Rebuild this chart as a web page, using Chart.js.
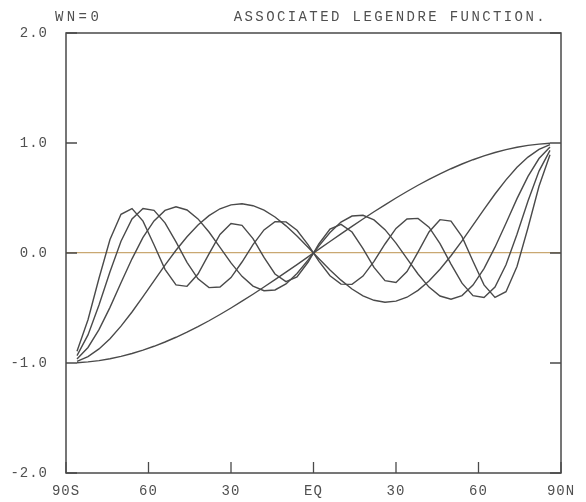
<!DOCTYPE html>
<html>
<head>
<meta charset="utf-8">
<title>Associated Legendre function, WN=0</title>
<script src="https://cdn.jsdelivr.net/npm/chart.js@4.4.1/dist/chart.umd.min.js"></script>
<style>
  html, body { margin: 0; padding: 0; background: #ffffff; }
  #wrap { width: 586px; height: 502px; }
</style>
</head>
<body>
<div id="wrap"><canvas id="legendreChart" width="586" height="502"></canvas></div>
<script>
// Legendre functions for zonal wavenumber 0, odd degrees n = 1..9,
// sampled on a 4-degree latitude grid (2 deg off the equator / poles).
const latitudes = [
    -86, -82, -78, -74, -70, -66, -62, -58, -54, -50, -46,
    -42, -38, -34, -30, -26, -22, -18, -14, -10, -6, -2,
    2, 6, 10, 14, 18, 22, 26, 30, 34, 38, 42,
    46, 50, 54, 58, 62, 66, 70, 74, 78, 82, 86
];

const p1 = [
    -0.998, -0.990, -0.978, -0.961, -0.940, -0.914, -0.883, -0.848, -0.809, -0.766, -0.719,
    -0.669, -0.616, -0.559, -0.500, -0.438, -0.375, -0.309, -0.242, -0.174, -0.105, -0.035,
    0.035, 0.105, 0.174, 0.242, 0.309, 0.375, 0.438, 0.500, 0.559, 0.616, 0.669,
    0.719, 0.766, 0.809, 0.848, 0.883, 0.914, 0.940, 0.961, 0.978, 0.990, 0.998
];
const p3 = [
    -0.985, -0.942, -0.872, -0.779, -0.665, -0.536, -0.396, -0.253, -0.110, 0.025, 0.148,
    0.255, 0.340, 0.402, 0.438, 0.447, 0.430, 0.390, 0.327, 0.247, 0.154, 0.052,
    -0.052, -0.154, -0.247, -0.327, -0.390, -0.430, -0.447, -0.438, -0.402, -0.340, -0.255,
    -0.148, -0.025, 0.110, 0.253, 0.396, 0.536, 0.665, 0.779, 0.872, 0.942, 0.985
];
const p5 = [
    -0.964, -0.859, -0.697, -0.494, -0.271, -0.053, 0.142, 0.292, 0.387, 0.420, 0.391,
    0.310, 0.191, 0.051, -0.090, -0.212, -0.301, -0.343, -0.336, -0.281, -0.186, -0.065,
    0.065, 0.186, 0.281, 0.336, 0.343, 0.301, 0.212, 0.090, -0.051, -0.191, -0.310,
    -0.391, -0.420, -0.387, -0.292, -0.142, 0.053, 0.271, 0.494, 0.697, 0.859, 0.964
];
const p7 = [
    -0.933, -0.745, -0.473, -0.170, 0.107, 0.309, 0.405, 0.388, 0.274, 0.101, -0.085,
    -0.235, -0.315, -0.309, -0.223, -0.082, 0.076, 0.210, 0.285, 0.283, 0.207, 0.076,
    -0.076, -0.207, -0.283, -0.285, -0.210, -0.076, 0.082, 0.223, 0.309, 0.315, 0.235,
    0.085, -0.101, -0.274, -0.388, -0.405, -0.309, -0.107, 0.170, 0.473, 0.745, 0.933
];
const p9 = [
    -0.893, -0.607, -0.230, 0.123, 0.352, 0.404, 0.290, 0.075, -0.148, -0.290, -0.303,
    -0.191, -0.008, 0.169, 0.268, 0.252, 0.131, -0.040, -0.191, -0.260, -0.218, -0.084,
    0.084, 0.218, 0.260, 0.191, 0.040, -0.131, -0.252, -0.268, -0.169, 0.008, 0.191,
    0.303, 0.290, 0.148, -0.075, -0.290, -0.404, -0.352, -0.123, 0.230, 0.607, 0.893
];

const latTicks = [-90, -60, -30, 0, 30, 60, 90];
const latTickLabels = ['90S', '60', '30', 'EQ', '30', '60', '90N'];
const valueTicks = [-2, -1, 0, 1, 2];

const seriesList = [p1, p3, p5, p7, p9];
const seriesNames = ['P1', 'P3', 'P5', 'P7', 'P9'];

const INK = '#4a4a4a';
const ZERO_LINE = '#c9a872';
const FONT = "'Liberation Mono', 'DejaVu Sans Mono', monospace";

// frame box + inward tick marks + the two header strings
const plotterFrame = {
    id: 'plotterFrame',
    beforeDraw(chart) {
        // plotter lettering is a bit wider than the mono font; tick labels inherit this
        chart.ctx.letterSpacing = '1px';
    },
    afterDatasetsDraw(chart) {
        const { ctx, chartArea: a, scales } = chart;
        const tick = 11;
        ctx.save();
        ctx.strokeStyle = INK;
        ctx.lineWidth = 1.5;
        ctx.strokeRect(a.left, a.top, a.right - a.left, a.bottom - a.top);

        ctx.lineWidth = 1.3;
        ctx.beginPath();
        valueTicks.forEach(function (v) {
            const y = scales.y.getPixelForValue(v);
            ctx.moveTo(a.left, y); ctx.lineTo(a.left + tick, y);
            ctx.moveTo(a.right, y); ctx.lineTo(a.right - tick, y);
        });
        latTicks.forEach(function (v) {
            const x = scales.x.getPixelForValue(v);
            ctx.moveTo(x, a.bottom); ctx.lineTo(x, a.bottom - tick);
        });
        ctx.stroke();

        ctx.fillStyle = '#505050';
        ctx.font = '14px ' + FONT;
        ctx.textBaseline = 'alphabetic';
        ctx.letterSpacing = '3.4px';
        ctx.textAlign = 'left';
        ctx.fillText('WN=0', a.left - 11, 21);
        ctx.letterSpacing = '2.4px';
        ctx.textAlign = 'right';
        ctx.fillText('ASSOCIATED LEGENDRE FUNCTION.', a.right - 14, 21);
        ctx.restore();
    }
};

new Chart(document.getElementById('legendreChart'), {
    type: 'line',
    data: {
        datasets: seriesList.map(function (values, i) {
            return {
                label: seriesNames[i],
                data: latitudes.map(function (lat, j) { return { x: lat, y: values[j] }; }),
                borderColor: INK,
                borderWidth: 1.4,
                pointRadius: 0,
                tension: 0,
                fill: false
            };
        })
    },
    options: {
        responsive: false,
        animation: false,
        layout: { padding: { top: 33, right: 25, left: 0, bottom: 0 } },
        plugins: {
            legend: { display: false },
            tooltip: { enabled: false }
        },
        scales: {
            x: {
                type: 'linear',
                min: -90,
                max: 90,
                afterBuildTicks: function (scale) {
                    scale.ticks = latTicks.map(function (v) { return { value: v }; });
                },
                afterFit: function (scale) { scale.height = 29; },
                grid: { display: false, drawTicks: false },
                border: { display: false },
                ticks: {
                    autoSkip: false,
                    maxRotation: 0,
                    padding: 10,
                    color: '#505050',
                    font: { family: FONT, size: 14 },
                    callback: function (value, index) { return latTickLabels[index]; }
                }
            },
            y: {
                min: -2,
                max: 2,
                afterBuildTicks: function (scale) {
                    scale.ticks = valueTicks.map(function (v) { return { value: v }; });
                },
                afterFit: function (scale) { scale.width = 66; },
                grid: {
                    drawTicks: false,
                    lineWidth: 1.3,
                    color: function (c) {
                        return c.tick && c.tick.value === 0 ? ZERO_LINE : 'rgba(0,0,0,0)';
                    }
                },
                border: { display: false },
                ticks: {
                    padding: 18,
                    color: '#505050',
                    font: { family: FONT, size: 14 },
                    callback: function (value) { return value.toFixed(1); }
                }
            }
        }
    },
    plugins: [plotterFrame]
});
</script>
</body>
</html>
